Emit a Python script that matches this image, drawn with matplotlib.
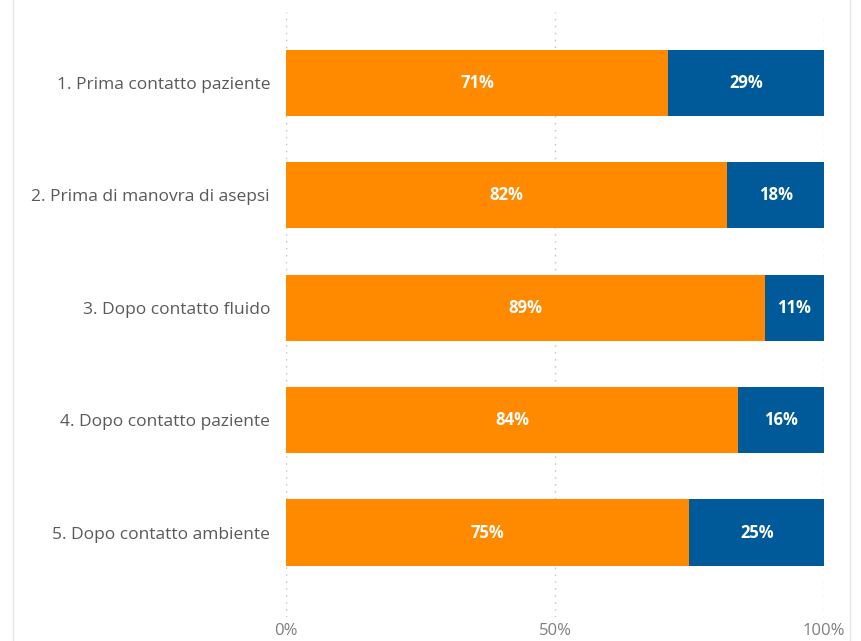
import matplotlib.pyplot as plt
from matplotlib.lines import Line2D

categories = [
    "1. Prima contatto paziente",
    "2. Prima di manovra di asepsi",
    "3. Dopo contatto fluido",
    "4. Dopo contatto paziente",
    "5. Dopo contatto ambiente",
]
si = [71, 82, 89, 84, 75]
no = [29, 18, 11, 16, 25]
xticks = [0, 50, 100]
xticklabels = ["0%", "50%", "100%"]

orange = "#FF8A00"
blue = "#005A9A"

plt.rcParams['font.family'] = ['Open Sans', 'DejaVu Sans']

fig = plt.figure(figsize=(8.62, 6.41), dpi=100)
ax = fig.add_axes([286 / 862, 1 - 617 / 641, 538 / 862, 605 / 641])

ypos = list(range(len(categories)))
ax.barh(ypos, si, height=0.59, color=orange, zorder=2)
ax.barh(ypos, no, left=si, height=0.59, color=blue, zorder=2)

for y, a, b in zip(ypos, si, no):
    ax.text(a / 2, y, f"{a}%", ha='center', va='center', color='white',
            fontsize=12, fontweight='bold', zorder=3)
    ax.text(a + b / 2, y, f"{b}%", ha='center', va='center', color='white',
            fontsize=12, fontweight='bold', zorder=3)

ax.set_xlim(0, 100)
ax.set_ylim(4.75, -0.63)
ax.set_yticks(ypos)
ax.set_yticklabels(categories, fontsize=12.5, color='#595959')
ax.set_xticks(xticks)
ax.set_xticklabels(xticklabels, fontsize=12, color='#7f7f7f')
ax.tick_params(axis='y', length=0, pad=11.5)
ax.tick_params(axis='x', length=0, pad=4)
ax.grid(axis='x', linestyle=(0, (1, 4)), color='#bfbfbf', linewidth=1, zorder=0)
for s in ax.spines.values():
    s.set_visible(False)

# panel borders
fig.add_artist(Line2D([13 / 862, 13 / 862], [0, 1], color='#e6e6e6', linewidth=1))
fig.add_artist(Line2D([850 / 862, 850 / 862], [0, 1], color='#e6e6e6', linewidth=1))

fig.savefig("out.png", dpi=100)
